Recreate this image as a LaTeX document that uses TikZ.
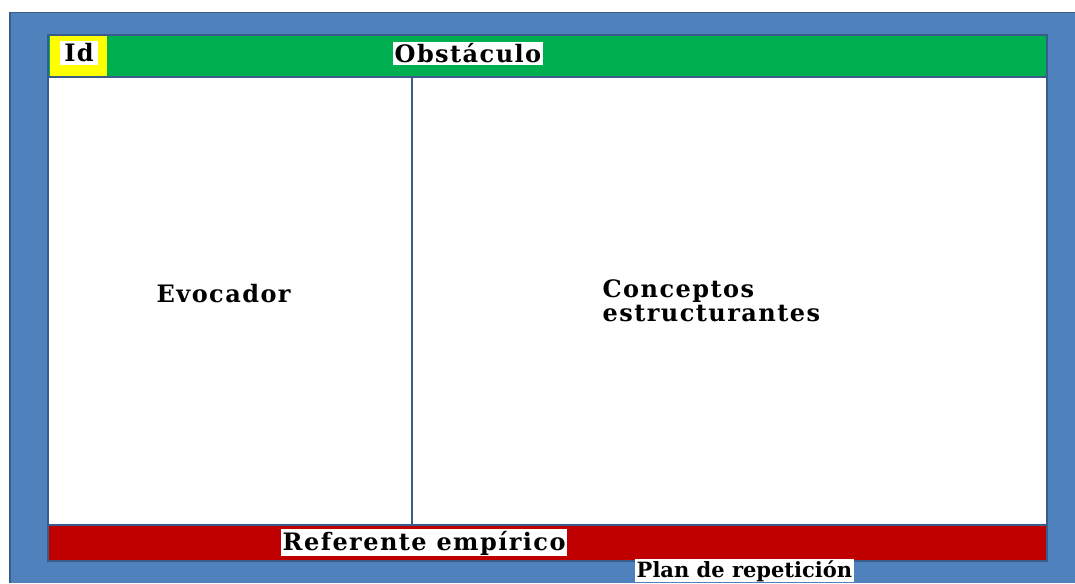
\documentclass[tikz,border=0pt]{standalone}
\usepackage{fontspec}
\setmainfont{DejaVu Serif}[LetterSpace=6]
\definecolor{outerblue}{HTML}{4F81BD}
\definecolor{edgeblue}{HTML}{385D8A}
\definecolor{bandgreen}{HTML}{00B050}
\definecolor{bandred}{HTML}{C00000}
\definecolor{idyellow}{HTML}{FFFF00}
\tikzset{
  lbl/.style={font=\bfseries\fontsize{24}{24}\selectfont, text=black, inner sep=1.5pt},
  lblbg/.style={lbl, fill=white},
}
\begin{document}
\begin{tikzpicture}[x=1pt,y=-1pt]
\useasboundingbox (0,0) rectangle (1075,583);
\fill[white] (0,0) rectangle (1075,583);
% outer blue panel
\fill[outerblue] (9,12) rectangle (1075,583);
\draw[edgeblue,line width=1.5pt] (9.75,583) -- (9.75,12.75) -- (1075,12.75);
% inner frame
\fill[white] (48,35) rectangle (1047,561);
\fill[bandgreen] (48,35) rectangle (1047,77);
\fill[idyellow] (50,36) rectangle (107,76);
\fill[bandred] (48,525) rectangle (1047,561);
\draw[edgeblue,line width=1.5pt] (48,35) rectangle (1047,561);
\draw[edgeblue,line width=1.2pt] (48,77) -- (1047,77);
\draw[edgeblue,line width=1.2pt] (48,525) -- (1047,525);
% divider
\coordinate (divtop) at (412,77);
\coordinate (divbot) at (412,525);
\draw[edgeblue,line width=2pt] (divtop) -- (divbot);
% labels
\node[lblbg, anchor=base, inner xsep=4pt, inner ysep=3pt] (id) at (79,62) {Id};
\node[lblbg, anchor=base west] (obst) at (393,63) {Obstáculo};
\node[lbl, anchor=base west] (evoc) at (155,302) {Evocador};
\node[lbl, anchor=base west] (conc) at (601,297) {Conceptos};
\node[lbl, anchor=base west] (estr) at (601,321) {estructurantes};
\node[lblbg, anchor=base west] (ref) at (281,550) {Referente empírico};
\node[lblbg, anchor=base west, inner ysep=1pt, font=\bfseries\fontsize{21}{21}\selectfont\addfontfeature{LetterSpace=0}] (plan) at (635,577) {Plan de repetición};
\end{tikzpicture}
\end{document}
